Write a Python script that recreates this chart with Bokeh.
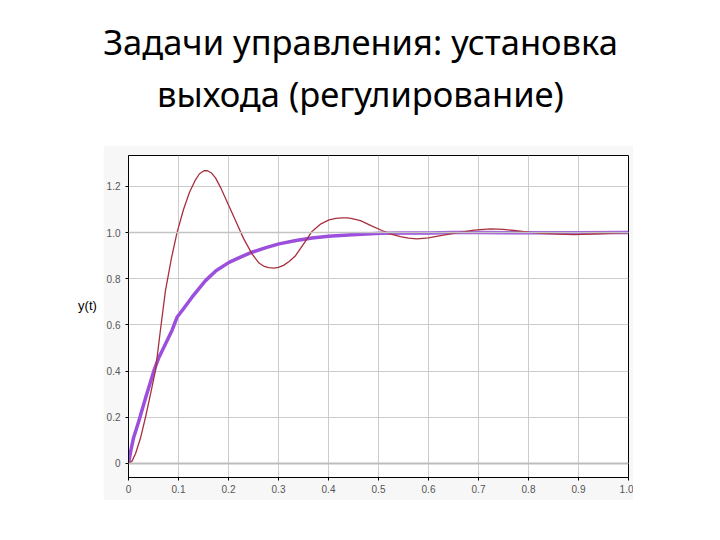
from bokeh.plotting import figure
from bokeh.models import Range1d, Label, FixedTicker, Span
from bokeh.layouts import column, row
from bokeh.embed import file_html
from bokeh.resources import INLINE

title_lines = ["Задачи управления: установка", "выхода (регулирование)"]
y_label = "y(t)"

x_ticks = [0, 0.1, 0.2, 0.3, 0.4, 0.5, 0.6, 0.7, 0.8, 0.9, 1.0]
x_tick_labels = ["0", "0.1", "0.2", "0.3", "0.4", "0.5", "0.6", "0.7", "0.8", "0.9", "1.0"]
y_ticks = [0, 0.2, 0.4, 0.6, 0.8, 1.0, 1.2]
y_tick_labels = ["0", "0.2", "0.4", "0.6", "0.8", "1.0", "1.2"]

# oscillating (second-order) response
t_osc = [0, 0.007, 0.014, 0.024, 0.034, 0.044, 0.054, 0.064, 0.074, 0.086, 0.097,
         0.11, 0.122, 0.133, 0.142, 0.151, 0.158, 0.166, 0.174, 0.184, 0.2, 0.214,
         0.23, 0.247, 0.261, 0.27, 0.28, 0.291, 0.3, 0.31, 0.322, 0.334, 0.35, 0.367,
         0.385, 0.401, 0.415, 0.427, 0.437, 0.445, 0.464, 0.485, 0.507, 0.525, 0.544,
         0.56, 0.577, 0.6, 0.624, 0.66, 0.691, 0.724, 0.75, 0.771, 0.8, 0.824, 0.86,
         0.891, 0.94, 1.0]
y_osc = [0, 0.01, 0.042, 0.11, 0.2, 0.3, 0.403, 0.58, 0.75, 0.89, 1.0,
         1.1, 1.175, 1.225, 1.255, 1.268, 1.268, 1.258, 1.237, 1.196, 1.12, 1.052,
         0.975, 0.908, 0.868, 0.855, 0.848, 0.846, 0.849, 0.858, 0.876, 0.9, 0.95, 1.005,
         1.038, 1.055, 1.062, 1.064, 1.064, 1.062, 1.052, 1.03, 1.009, 0.993, 0.983,
         0.976, 0.973, 0.977, 0.987, 1.0, 1.011, 1.016, 1.014, 1.009, 1.002, 0.997, 0.993,
         0.991, 0.995, 1.0]

# aperiodic (first-order-like) response
t_aper = [0, 0.005, 0.01, 0.021, 0.035, 0.051, 0.061, 0.071, 0.087, 0.097, 0.11,
          0.127, 0.154, 0.175, 0.201, 0.225, 0.247, 0.275, 0.301, 0.335, 0.367,
          0.4, 0.447, 0.504, 0.55, 0.6, 0.65, 0.7, 0.8, 0.9, 1.0]
y_aper = [0, 0.06, 0.11, 0.186, 0.29, 0.403, 0.46, 0.504, 0.576, 0.633, 0.67,
          0.72, 0.792, 0.835, 0.871, 0.895, 0.915, 0.935, 0.951, 0.966, 0.977,
          0.984, 0.991, 0.997, 0.998, 0.998, 1.0, 1.0, 0.999, 0.999, 1.0]

# ---------- header with title ----------
header = figure(width=704, height=145, x_range=Range1d(0, 704), y_range=Range1d(145, 0),
                output_backend="svg", toolbar_location=None, x_axis_type=None,
                y_axis_type=None, min_border=0, outline_line_color=None)
header.grid.visible = False
for txt, yy in zip(title_lines, [41, 93]):
    header.add_layout(Label(x=360, y=yy, text=txt, text_align="center",
                            text_baseline="alphabetic", text_font="Noto Sans",
                            text_font_size="34.5px", text_color="#000000"))

# ---------- left strip with y label ----------
left = figure(width=103, height=355, x_range=Range1d(0, 103), y_range=Range1d(500, 145),
              output_backend="svg", toolbar_location=None, x_axis_type=None,
              y_axis_type=None, min_border=0, outline_line_color=None)
left.grid.visible = False
left.add_layout(Label(x=87, y=310, text=y_label, text_align="center",
                      text_baseline="middle", text_font="Liberation Sans",
                      text_font_size="13px", text_color="#000000"))

# ---------- chart ----------
p = figure(width=530, height=355, x_range=Range1d(0, 1.0), y_range=Range1d(-0.061, 1.334),
           output_backend="svg", toolbar_location=None,
           min_border_left=25, min_border_right=5, min_border_top=10, min_border_bottom=23,
           border_fill_color="#f7f7f7", background_fill_color="#ffffff",
           outline_line_color="#000000", outline_line_width=1)

p.xaxis.ticker = FixedTicker(ticks=x_ticks)
p.yaxis.ticker = FixedTicker(ticks=y_ticks)
p.xaxis.major_label_overrides = {t: l for t, l in zip(x_ticks, x_tick_labels)}
p.yaxis.major_label_overrides = {t: l for t, l in zip(y_ticks, y_tick_labels)}
for ax in (p.xaxis, p.yaxis):
    ax.axis_line_color = "#000000"
    ax.major_tick_line_color = "#000000"
    ax.major_tick_out = 3
    ax.major_tick_in = 0
    ax.minor_tick_line_color = None
    ax.major_label_text_font = "Liberation Sans"
    ax.major_label_text_font_size = "10px"
    ax.major_label_text_color = "#555555"
p.xaxis.major_label_standoff = 4
p.yaxis.major_label_standoff = 5

p.grid.grid_line_color = "#cccccc"
p.grid.grid_line_width = 1

p.add_layout(Span(location=0, dimension="width", line_color="#bdbdbd", line_width=2))
p.add_layout(Span(location=1.0, dimension="width", line_color="#c4c4c4", line_width=1.5))

p.line(t_aper, y_aper, line_color="#9b4fdc", line_width=3.5, line_join="round")
p.line(t_osc, y_osc, line_color="#a8303c", line_width=1.3, line_join="round")

layout = column(header, row(left, p))

open("out.html", "w").write(file_html(layout, INLINE))
